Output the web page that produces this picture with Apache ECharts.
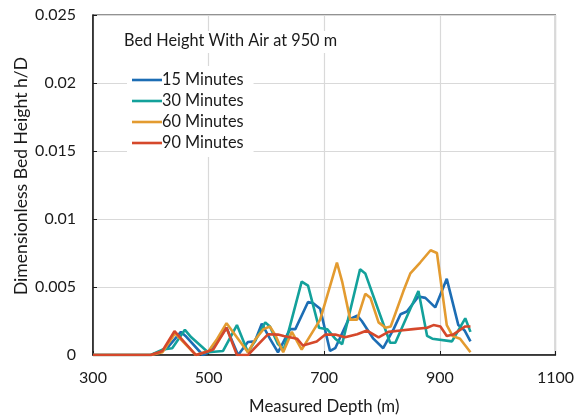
<!DOCTYPE html>
<html>
<head>
<meta charset="utf-8">
<script src="https://cdn.jsdelivr.net/npm/echarts@6/dist/echarts.min.js"></script>
<style>
  html, body { margin: 0; padding: 0; background: #fff; }
  #chart { width: 577px; height: 420px; }
</style>
</head>
<body>
<div id="chart"></div>
<script>
// Bed height profiles along the well (measured depth in m, h/D dimensionless)
const seriesNames = ['15 Minutes', '30 Minutes', '60 Minutes', '90 Minutes'];

const depth15 = [300, 400, 420, 430, 440, 452, 460, 490, 500, 515, 531, 551, 568, 580, 592, 606, 620, 641, 650, 672, 681, 693, 710, 719, 742, 757, 765, 785, 802, 820, 832, 843, 863, 875, 892, 912, 932, 943, 953];
const height15 = [0, 0, 0.0003, 0.0006, 0.0011, 0.0017, 0.0014, 0, 0.0002, 0.001, 0.002, 0, 0.00095, 0.001, 0.0023, 0.0012, 0.0002, 0.0019, 0.0019, 0.0039, 0.0038, 0.0034, 0.0003, 0.0005, 0.0026, 0.0029, 0.0025, 0.0012, 0.0005, 0.0019, 0.003, 0.0032, 0.0043, 0.0042, 0.0035, 0.0056, 0.0022, 0.0018, 0.001];

const depth30 = [300, 400, 420, 437, 459, 470, 499, 525, 549, 568, 580, 598, 606, 620, 630, 661, 672, 691, 705, 719, 731, 762, 771, 797, 814, 823, 849, 863, 878, 887, 921, 944, 953];
const height30 = [0, 0, 0.0004, 0.0005, 0.00185, 0.0013, 0.0002, 0.0003, 0.0022, 0.0002, 0.001, 0.0024, 0.0021, 0.0008, 0.0004, 0.0054, 0.0051, 0.002, 0.0019, 0.0012, 0.0008, 0.0063, 0.006, 0.0029, 0.0009, 0.0009, 0.0034, 0.0047, 0.0014, 0.0012, 0.001, 0.0027, 0.0017];

const depth60 = [300, 400, 420, 442, 478, 500, 515, 531, 568, 580, 595, 606, 615, 629, 644, 661, 693, 722, 731, 745, 757, 771, 780, 794, 806, 815, 837, 849, 866, 884, 895, 912, 922, 935, 953];
const height60 = [0, 0, 0.0002, 0.0016, 0, 0.0003, 0.0012, 0.00234, 0.0002, 0.0011, 0.0019, 0.0021, 0.0015, 0.0002, 0.0017, 0.0004, 0.0026, 0.0068, 0.0054, 0.0026, 0.0026, 0.0045, 0.0042, 0.0024, 0.002, 0.0021, 0.0047, 0.006, 0.0068, 0.0077, 0.0075, 0.0022, 0.0014, 0.0012, 0.0002];

const depth90 = [300, 400, 420, 441, 478, 494, 508, 531, 549, 568, 603, 620, 630, 653, 663, 687, 702, 719, 736, 757, 774, 794, 811, 832, 854, 878, 889, 901, 912, 923, 944, 953];
const height90 = [0, 0, 0.0003, 0.00175, 0, 0.0002, 0.0004, 0.002, 0, 0, 0.00153, 0.0015, 0.0014, 0.0012, 0.0007, 0.001, 0.0015, 0.0015, 0.0013, 0.00153, 0.0018, 0.0013, 0.0017, 0.0018, 0.0019, 0.002, 0.0022, 0.0021, 0.0014, 0.0015, 0.0021, 0.0021];

const xTicks = [300, 500, 700, 900, 1100];
const yTickLabels = ['0', '0.005', '0.01', '0.015', '0.02', '0.025'];

const colors = ['#1c6db4', '#13a19b', '#e39b30', '#d5482b'];
const depths = [depth15, depth30, depth60, depth90];
const heights = [height15, height30, height60, height90];

const FONT = 'Lato';
const TEXT = '#1a1a1a';
const FS = 16.3;

const chart = echarts.init(document.getElementById('chart'), null, { renderer: 'canvas' });

const series = seriesNames.map((name, i) => ({
  name: name,
  type: 'line',
  data: depths[i].map((d, j) => [d, heights[i][j]]),
  symbol: 'none',
  smooth: false,
  lineStyle: { width: 2.6, color: colors[i] },
  itemStyle: { color: colors[i] },
  z: 2 + i
}));

chart.setOption({
  animation: false,
  backgroundColor: '#fff',
  textStyle: { fontFamily: FONT, color: TEXT },
  grid: {
    left: 93, right: 21, top: 15, bottom: 64,
    show: true, borderColor: '#262626', borderWidth: 1.2, backgroundColor: 'transparent'
  },
  title: {
    text: 'Bed Height With Air at 950 m',
    left: 118, top: 31,
    padding: [2, 6, 4, 6],
    backgroundColor: '#fff',
    textStyle: { fontFamily: FONT, fontSize: FS, fontWeight: 'normal', color: TEXT }
  },
  legend: {
    data: seriesNames,
    orient: 'vertical',
    left: 127, top: 66,
    padding: [6, 10, 6, 5],
    backgroundColor: '#fff',
    icon: 'rect',
    itemWidth: 30, itemHeight: 2.6, itemGap: 5,
    textStyle: { fontFamily: FONT, fontSize: FS, color: TEXT, padding: [0, 0, 0, -5] }
  },
  xAxis: {
    type: 'value',
    min: xTicks[0], max: xTicks[xTicks.length - 1], interval: 200,
    name: 'Measured Depth (m)',
    nameLocation: 'middle', nameGap: 43,
    nameTextStyle: { fontFamily: FONT, fontSize: FS + 0.5, color: TEXT },
    axisLine: { show: true, lineStyle: { color: '#1a1a1a', width: 1.5 } },
    axisTick: { show: true, inside: true, length: 4, lineStyle: { color: '#1a1a1a' } },
    axisLabel: {
      margin: 15, fontFamily: FONT, fontSize: 16, color: TEXT,
      formatter: (v) => String(v)
    },
    splitLine: { show: true, lineStyle: { color: '#d9d9d9', width: 1.2 } }
  },
  yAxis: {
    type: 'value',
    min: 0, max: 0.025, interval: 0.005,
    axisLine: { show: true, lineStyle: { color: '#1a1a1a', width: 1.5 } },
    axisTick: { show: true, inside: true, length: 4, lineStyle: { color: '#1a1a1a' } },
    axisLabel: {
      margin: 17, fontFamily: FONT, fontSize: 16, color: TEXT,
      formatter: (v) => yTickLabels[Math.round(v / 0.005)]
    },
    splitLine: { show: true, lineStyle: { color: '#d9d9d9', width: 1.2 } }
  },
  graphic: [{
    type: 'text',
    x: 21, y: 176,
    rotation: Math.PI / 2,
    style: {
      text: 'Dimensionless Bed Height h/D',
      fontFamily: FONT, fontSize: 17.6, fill: TEXT,
      textAlign: 'center', textVerticalAlign: 'middle'
    }
  }],
  series: series
});
</script>
</body>
</html>
